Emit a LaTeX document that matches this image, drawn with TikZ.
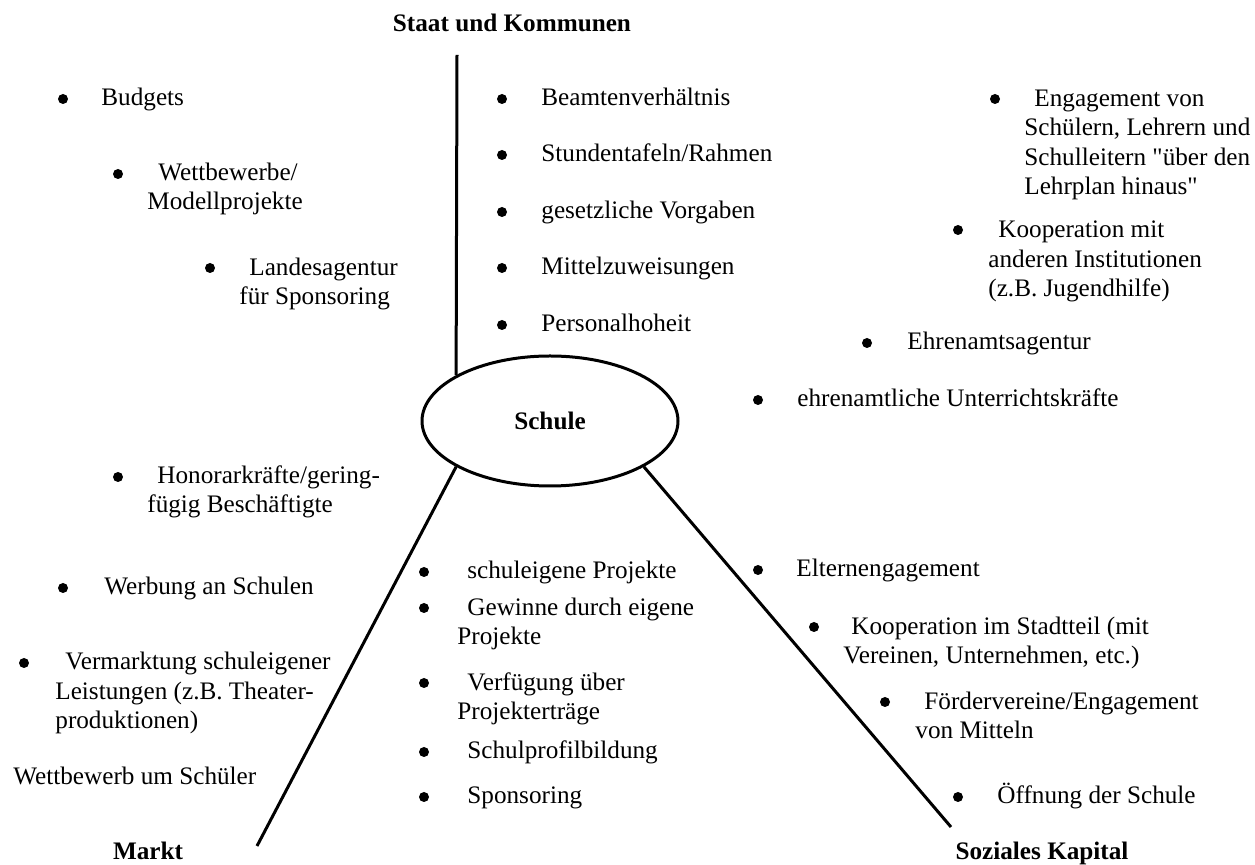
\documentclass[tikz,border=0pt]{standalone}
\usepackage{fontspec}
\setmainfont{Liberation Serif}[Ligatures=TeXOff]
\usetikzlibrary{shapes.geometric}
\tikzset{
    every node/.style={inner sep=0mm, font=\fontsize{12.6}{14.8}\selectfont},
    dot/.style={circle, fill, minimum size=5pt},
    item/.style={anchor=base west, align=left},
    head/.style={anchor=base, font=\fontsize{12.6}{14.8}\selectfont\bfseries},
    axis/.style={line width=1.5pt}
}

\begin{document}
\begin{tikzpicture}[x=0.5pt, y=-0.5pt]
        \useasboundingbox (0,0) rectangle (1255,865);
        % Schule und die drei Pole
        \node (schule) [ellipse, draw, line width=1.5pt, minimum width=128pt, minimum height=65pt, font=\fontsize{12.6}{14.8}\selectfont\bfseries] at (550,421) {Schule};
        \node (staat) [head] at (512,32) {Staat und Kommunen};
        \node (markt) [head] at (148,860) {Markt};
        \node (sozial) [head] at (1042,860) {Soziales Kapital};
        \coordinate (staattop) at (457,55);
        \coordinate (marktend) at (257,846);
        \coordinate (sozialend) at (951,827);
        \draw[axis] (staattop) -- (schule.154);
        \draw[axis] (schule.206) -- (marktend);
        \draw[axis] (schule.334) -- (sozialend);
        % links oben (bei mehreren Zeilen: Grundlinie der letzten Zeile)
        \node (d1) [dot] at (63,99) {};
        \node (t1) [item] at (101,106) {Budgets};
        \node (d2) [dot] at (118,174) {};
        \node (t2) [item] at (147,210) {\hspace*{5.5pt}Wettbewerbe/\\Modellprojekte};
        \node (d3) [dot] at (210,268) {};
        \node (t3) [item] at (239,305) {\hspace*{5pt}Landesagentur\\f\"ur Sponsoring};
        % Staat
        \node (d4) [dot] at (502,99) {};
        \node (t4) [item] at (541,106) {Beamtenverh\"altnis};
        \node (d5) [dot] at (502,155) {};
        \node (t5) [item] at (541,162) {Stundentafeln/Rahmen};
        \node (d6) [dot] at (502,212) {};
        \node (t6) [item] at (541,219) {gesetzliche Vorgaben};
        \node (d7) [dot] at (502,268) {};
        \node (t7) [item] at (541,275) {Mittelzuweisungen};
        \node (d8) [dot] at (502,325) {};
        \node (t8) [item] at (541,332) {Personalhoheit};
        % rechts oben
        \node (d9) [dot] at (995,99) {};
        \node (t9) [item] at (1024,195) {\hspace*{5pt}Engagement von\\Sch\"ulern, Lehrern und\\Schulleitern "\"uber den\\Lehrplan hinaus"};
        \node (d10) [dot] at (958,230) {};
        \node (t10) [item] at (988,297) {\hspace*{5pt}Kooperation mit\\anderen Institutionen\\(z.B. Jugendhilfe)};
        \node (d11) [dot] at (867,343) {};
        \node (t11) [item] at (907,350) {Ehrenamtsagentur};
        \node (d12) [dot] at (758,400) {};
        \node (t12) [item] at (797,407) {ehrenamtliche Unterrichtskr\"afte};
        % Markt
        \node (d13) [dot] at (118,477) {};
        \node (t13) [item] at (147,513) {\hspace*{5pt}Honorarkr\"afte/gering-\\f\"ugig Besch\"aftigte};
        \node (d14) [dot] at (63,588) {};
        \node (t14) [item] at (104,595) {Werbung an Schulen};
        \node (d15) [dot] at (24,663) {};
        \node (t15) [item] at (55,729) {\hspace*{5pt}Vermarktung schuleigener\\Leistungen (z.B. Theater-\\produktionen)};
        \node (t16) [item] at (13,785) {Wettbewerb um Sch\"uler};
        % Mitte unten
        \node (d17) [dot] at (424,572) {};
        \node (t17) [item] at (467,579) {schuleigene Projekte};
        \node (d18) [dot] at (424,608) {};
        \node (t18) [item] at (457,645) {\hspace*{5pt}Gewinne durch eigene\\Projekte};
        \node (d19) [dot] at (424,683) {};
        \node (t19) [item] at (457,720) {\hspace*{5pt}Verf\"ugung \"uber\\Projektertr\"age};
        \node (d20) [dot] at (424,752) {};
        \node (t20) [item] at (467,759) {Schulprofilbildung};
        \node (d21) [dot] at (424,797) {};
        \node (t21) [item] at (467,804) {Sponsoring};
        % Soziales Kapital
        \node (d22) [dot] at (758,570) {};
        \node (t22) [item] at (796,577) {Elternengagement};
        \node (d23) [dot] at (814,627) {};
        \node (t23) [item] at (843,664) {\hspace*{4pt}Kooperation im Stadtteil (mit\\Vereinen, Unternehmen, etc.)};
        \node (d24) [dot] at (885,702) {};
        \node (t24) [item] at (915,739) {\hspace*{4.5pt}F\"ordervereine/Engagement\\von Mitteln};
        \node (d25) [dot] at (958,797) {};
        \node (t25) [item] at (997,804) {\"Offnung der Schule};
\end{tikzpicture}
\end{document}
